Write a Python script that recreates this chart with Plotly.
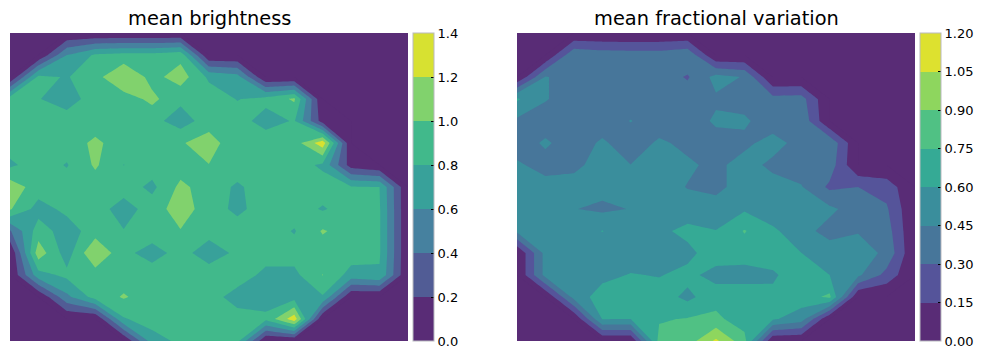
import plotly.graph_objects as go

col_index = list(range(15))
row_index = list(range(15))

brightness = [
 [0,0,0,0,0,0,0,0,0,0,0,0,0,0,0],
 [0,0,.6,.83,.87,.87,.93,0,0,0,0,0,0,0,0],
 [0,.85,.785,.93,1.2,.93,1.1,.76,.68,0,0,0,0,0,0],
 [.9,.81,.7,.9,.9,1.05,.85,.92,.79,.87,1.03,0,0,0,0],
 [.9,.9,.9,.9,.9,.87,.7,.9,.9,.7,.82,.1,0,0,0],
 [.9,.9,.9,1.04,.9,.9,.98,1.1,.85,.95,.9,1.32,0,0,0],
 [.76,.9,.785,1.03,.797,.9,.9,.995,.9,.9,.9,.76,.1,0,0],
 [1.12,.9,.9,.9,.9,.75,1.05,.9,.77,.9,.9,.9,.82,.8,0],
 [1.02,.72,.85,.9,.7,.9,1.1,.9,.75,.9,.9,.78,.9,.82,0],
 [.38,.9,.7,.9,.81,.9,.99,.87,.9,.9,.785,1.02,.9,.82,0],
 [0,1.12,.7,1.2,.85,.72,.87,.7,.84,.88,.88,.9,.9,.82,0],
 [0,.72,.85,.9,.9,.9,.9,.9,.9,.75,.75,1.005,.72,.78,0],
 [0,0,.55,.88,1.02,.9,.9,.88,.72,.7,.72,.78,0,0,0],
 [0,0,0,0,.78,.9,.9,.9,.88,.85,1.32,0,0,0,0],
 [0,0,0,0,0,.7,.85,.87,.85,0,0,0,0,0,0],
]

fractional_variation = [
 [0,0,0,0,0,0,0,0,0,0,0,0,0,0,0],
 [0,0,.42,.38,.37,.37,.42,0,0,0,0,0,0,0,0],
 [0,.46,.38,.38,.38,.38,.285,.5,.44,0,0,0,0,0,0],
 [.62,.46,.38,.38,.38,.38,.38,.43,.4,.35,.36,0,0,0,0],
 [.42,.38,.38,.38,.455,.38,.38,.47,.47,.38,.42,0,0,0,0],
 [.38,.47,.38,.47,.38,.47,.42,.4,.42,.5,.4,.42,0,0,0],
 [.47,.4,.42,.5,.452,.5,.47,.42,.5,.42,.38,.38,0,0,0],
 [.5,.5,.5,.5,.5,.5,.445,.42,.5,.5,.46,.27,.3,.24,0],
 [.5,.5,.455,.42,.455,.5,.5,.5,.58,.5,.48,.48,.38,.32,0],
 [.48,.5,.5,.605,.5,.56,.65,.605,.76,.63,.5,.4,.44,.37,0],
 [0,.5,.5,.5,.5,.5,.55,.7,.68,.67,.601,.52,.52,.42,0],
 [0,.5,.5,.55,.61,.59,.65,.53,.53,.58,.68,.6,.48,.25,0],
 [0,0,.5,.68,.68,.68,.56,.7,.7,.63,.68,.78,0,0,0],
 [0,0,0,.605,.6,.735,.76,.78,.68,.62,.52,0,0,0,0],
 [0,0,0,0,0,.8,.82,1.08,.8,0,0,0,0,0,0],
]

brightness_ticks = [0.0, 0.2, 0.4, 0.6, 0.8, 1.0, 1.2, 1.4]
brightness_labels = ["0.0", "0.2", "0.4", "0.6", "0.8", "1.0", "1.2", "1.4"]
brightness_colors = ["#592c76", "#515c95", "#46819f", "#38a19a", "#41b98b", "#81d26d", "#d7e131"]

variation_ticks = [0.0, 0.15, 0.30, 0.45, 0.60, 0.75, 0.90, 1.05, 1.20]
variation_labels = ["0.00", "0.15", "0.30", "0.45", "0.60", "0.75", "0.90", "1.05", "1.20"]
variation_colors = ["#592c76", "#55549a", "#47769a", "#3a8e9c", "#35aa95", "#50c184", "#8ed65e", "#dde12f"]

W, H = 985, 359
TOP, BOTTOM = 33, 341


def band_scale(colors, n):
    # plotly samples band k at (k + 0.5) / n; n is the count of bands it actually resolves
    out = [[0, colors[0]]]
    for k in range(n):
        out.append([(k + 0.5) / n, colors[k]])
    out.append([1, colors[-1]])
    return out


def panel(z, ticks, labels, colors, n, cbx, xaxis, yaxis):
    step = round(ticks[1] - ticks[0], 6)
    return go.Contour(
        z=z, x=col_index, y=row_index, xaxis=xaxis, yaxis=yaxis,
        zmin=ticks[0], zmax=ticks[-1], autocontour=False,
        contours=dict(start=ticks[0], end=ticks[-1], size=step, coloring="fill", showlines=False),
        line=dict(width=0, smoothing=0),
        colorscale=band_scale(colors, n),
        hoverinfo="skip",
        colorbar=dict(
            x=cbx / W, xanchor="left", xpad=0, ypad=0,
            y=1 - (TOP + BOTTOM) / 2 / H, yanchor="middle",
            len=(BOTTOM - TOP) / H, lenmode="fraction",
            thickness=21, thicknessmode="pixels",
            outlinecolor="#b9b9c0", outlinewidth=1,
            tickmode="array", tickvals=ticks, ticktext=labels,
            ticks="inside", ticklen=3, tickcolor="#000000", tickwidth=1,
            tickfont=dict(family="DejaVu Sans", size=13, color="#000000"),
        ),
    )


fig = go.Figure()
fig.add_trace(panel(brightness, brightness_ticks, brightness_labels, brightness_colors, 6, 412.5, "x", "y"))
fig.add_trace(panel(fractional_variation, variation_ticks, variation_labels, variation_colors, 8, 920, "x2", "y2"))

axis_common = dict(showgrid=False, zeroline=False, showticklabels=False, ticks="", showline=False)
ydom = [1 - BOTTOM / H, 1 - TOP / H]
fig.update_layout(
    width=W, height=H, margin=dict(l=0, r=0, t=0, b=0),
    paper_bgcolor="#ffffff", plot_bgcolor="#592c76", showlegend=False,
    xaxis=dict(domain=[10 / W, 408 / W], range=[0, 14], **axis_common),
    yaxis=dict(domain=ydom, range=[14, 0], **axis_common),
    xaxis2=dict(domain=[517 / W, 915 / W], range=[0, 14], **axis_common),
    yaxis2=dict(domain=ydom, range=[14, 0], **axis_common),
    annotations=[
        dict(text="mean brightness", x=209 / W, y=1 - 19 / H, xref="paper", yref="paper",
             xanchor="center", yanchor="middle", showarrow=False,
             font=dict(family="DejaVu Sans", size=19.4, color="#000000")),
        dict(text="mean fractional variation", x=716 / W, y=1 - 19 / H, xref="paper", yref="paper",
             xanchor="center", yanchor="middle", showarrow=False,
             font=dict(family="DejaVu Sans", size=19.4, color="#000000")),
    ],
)

fig.write_html("out.html", config={"displayModeBar": False},
               post_script="document.body.style.margin='0';document.body.style.overflow='hidden';")
